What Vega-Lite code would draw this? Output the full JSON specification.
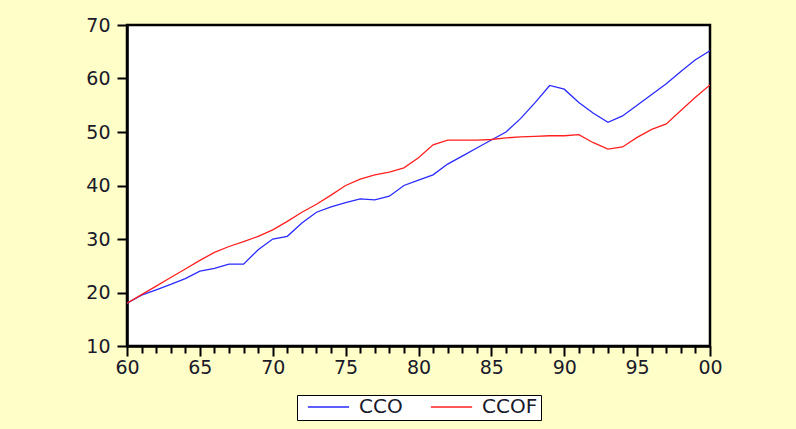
{
  "$schema": "https://vega.github.io/schema/vega-lite/v6.json",
  "autosize": "none",
  "width": 583,
  "height": 321,
  "padding": {"left": 127, "top": 25, "right": 86, "bottom": 83},
  "background": "#FFFDC8",
  "config": {
    "view": {"stroke": "black", "strokeWidth": 2.5, "fill": "white"},
    "font": "DejaVu Sans"
  },
  "datasets": {
    "d": [
      {"year":1960,"CCO":18.0,"CCOF":18.0},
      {"year":1961,"CCO":19.5,"CCOF":19.6},
      {"year":1962,"CCO":20.5,"CCOF":21.2},
      {"year":1963,"CCO":21.5,"CCOF":22.8},
      {"year":1964,"CCO":22.6,"CCOF":24.4},
      {"year":1965,"CCO":24.0,"CCOF":26.0},
      {"year":1966,"CCO":24.5,"CCOF":27.5},
      {"year":1967,"CCO":25.3,"CCOF":28.6},
      {"year":1968,"CCO":25.3,"CCOF":29.5},
      {"year":1969,"CCO":28.0,"CCOF":30.5},
      {"year":1970,"CCO":30.0,"CCOF":31.7},
      {"year":1971,"CCO":30.5,"CCOF":33.3},
      {"year":1972,"CCO":33.0,"CCOF":35.0},
      {"year":1973,"CCO":35.0,"CCOF":36.5},
      {"year":1974,"CCO":36.0,"CCOF":38.2},
      {"year":1975,"CCO":36.8,"CCOF":40.0},
      {"year":1976,"CCO":37.5,"CCOF":41.2},
      {"year":1977,"CCO":37.3,"CCOF":42.0},
      {"year":1978,"CCO":38.0,"CCOF":42.5},
      {"year":1979,"CCO":40.0,"CCOF":43.3},
      {"year":1980,"CCO":41.0,"CCOF":45.2},
      {"year":1981,"CCO":42.0,"CCOF":47.6},
      {"year":1982,"CCO":44.0,"CCOF":48.5},
      {"year":1983,"CCO":45.5,"CCOF":48.5},
      {"year":1984,"CCO":47.0,"CCOF":48.5},
      {"year":1985,"CCO":48.5,"CCOF":48.6},
      {"year":1986,"CCO":50.0,"CCOF":48.9},
      {"year":1987,"CCO":52.5,"CCOF":49.1},
      {"year":1988,"CCO":55.5,"CCOF":49.2},
      {"year":1989,"CCO":58.7,"CCOF":49.3},
      {"year":1990,"CCO":58.0,"CCOF":49.3},
      {"year":1991,"CCO":55.5,"CCOF":49.5},
      {"year":1992,"CCO":53.5,"CCOF":48.0},
      {"year":1993,"CCO":51.8,"CCOF":46.8},
      {"year":1994,"CCO":53.0,"CCOF":47.2},
      {"year":1995,"CCO":55.0,"CCOF":49.0},
      {"year":1996,"CCO":57.0,"CCOF":50.5},
      {"year":1997,"CCO":59.0,"CCOF":51.5},
      {"year":1998,"CCO":61.3,"CCOF":54.0},
      {"year":1999,"CCO":63.5,"CCOF":56.5},
      {"year":2000,"CCO":65.2,"CCOF":58.8}
    ]
  },
  "data": {"name": "d"},
  "transform": [{"fold": ["CCO", "CCOF"], "as": ["series", "value"]}],
  "mark": {"type": "line", "strokeWidth": 1.3, "clip": true},
  "encoding": {
    "x": {
      "field": "year", "type": "quantitative",
      "scale": {"domain": [1960, 2000], "nice": false, "zero": false},
      "axis": {
        "title": null, "grid": false,
        "values": [1960,1961,1962,1963,1964,1965,1966,1967,1968,1969,1970,1971,1972,1973,1974,1975,1976,1977,1978,1979,1980,1981,1982,1983,1984,1985,1986,1987,1988,1989,1990,1991,1992,1993,1994,1995,1996,1997,1998,1999,2000],
        "labelExpr": "datum.value % 5 == 0 ? slice('' + datum.value, 2) : ''",
        "labelOverlap": false, "labelFlush": false,
        "labelFontSize": 19, "labelColor": "#1a1a2a", "labelPadding": 2,
        "tickColor": "black", "tickWidth": 2,
        "tickSize": {"condition": {"test": "datum.value % 5 == 0", "value": 10}, "value": 7},
        "domainColor": "black", "domainWidth": 2.5
      }
    },
    "y": {
      "field": "value", "type": "quantitative",
      "scale": {"domain": [10, 70], "nice": false, "zero": false},
      "axis": {
        "title": null, "grid": false, "values": [10,20,30,40,50,60,70],
        "labelFontSize": 19, "labelColor": "#1a1a2a", "labelPadding": 7,
        "tickColor": "black", "tickWidth": 2, "tickSize": 10,
        "domainColor": "black", "domainWidth": 2.5
      }
    },
    "color": {
      "field": "series", "type": "nominal",
      "scale": {"domain": ["CCO", "CCOF"], "range": ["#2a2aff", "#ff2020"]},
      "legend": {
        "title": null, "orient": "none", "direction": "horizontal",
        "legendX": 170, "legendY": 370,
        "symbolType": "stroke", "symbolStrokeWidth": 1.3, "symbolSize": 1700,
        "symbolOffset": 7, "clipHeight": 18,
        "labelFontSize": 20, "labelColor": "#1a1a2a", "labelOffset": 9,
        "columnPadding": 20, "padding": 3,
        "strokeColor": "black", "fillColor": "white"
      }
    }
  }
}
